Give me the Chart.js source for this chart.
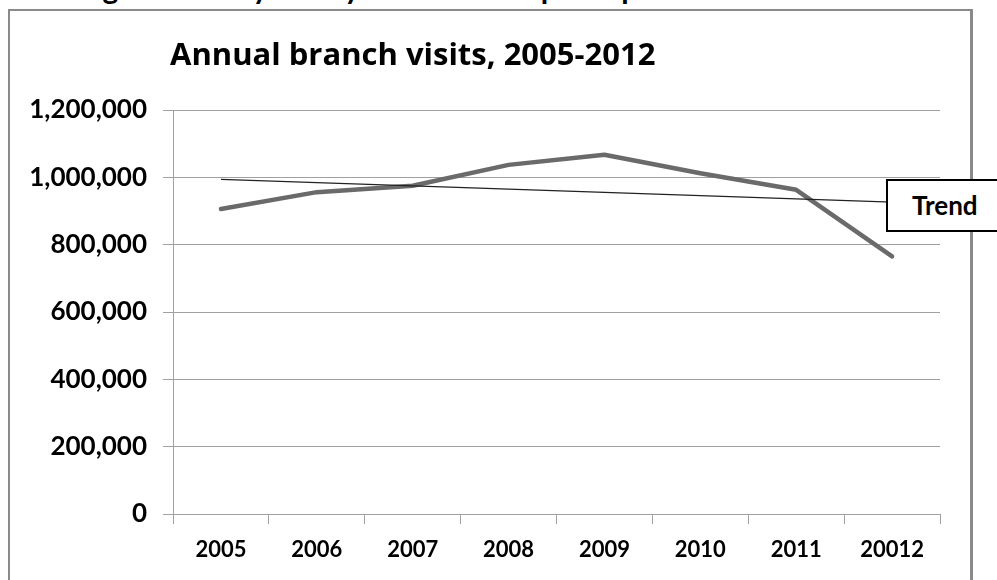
<!DOCTYPE html>
<html>
<head>
<meta charset="utf-8">
<script src="https://cdn.jsdelivr.net/npm/chart.js@4.4.1/dist/chart.umd.min.js"></script>
<style>
  html, body { margin: 0; padding: 0; background: #fff; overflow: hidden; }
  #wrap { position: relative; width: 997px; height: 580px; overflow: hidden; }
  #chart { position: absolute; left: 0; top: 0; }
  #heading {
    position: absolute; left: 3px; top: -27px;
    font: bold 30px Lato, "Open Sans", sans-serif; line-height: 29px;
    white-space: nowrap; color: #000;
  }
  #frame {
    position: absolute; left: 8px; top: 9px; width: 960px; height: 620px;
    border: 2px solid #8a8a8a; border-right-width: 3px; background: #fff;
  }
  #title {
    position: absolute; left: 170px; top: 34px;
    font: bold 31px "Open Sans", Lato, sans-serif; line-height: 38px;
    white-space: nowrap; color: #000;
  }
  #trendBox {
    position: absolute; left: 886px; top: 179px; width: 110px; height: 49px;
    border: 2px solid #000; border-right: none; background: #fff;
    font: bold 26px Lato, "Open Sans", sans-serif; line-height: 49px;
    padding-left: 24px; box-sizing: content-box; color: #000;
  }
</style>
</head>
<body>
<div id="wrap">
  <div id="heading">Washington County library branch visits per capita</div>
  <div id="frame"></div>
  <canvas id="chart" width="997" height="580"></canvas>
  <div id="title">Annual branch visits, 2005-2012</div>
  <div id="trendBox">Trend</div>
</div>
<script>
// ---------- DATA ----------
const years = ["2005", "2006", "2007", "2008", "2009", "2010", "2011", "20012"];
const visits = [906000, 956000, 975000, 1037000, 1067000, 1012000, 963000, 765000];
const yTicks = [0, 200000, 400000, 600000, 800000, 1000000, 1200000];

// ---------- HELPERS ----------
// least squares line over the category index, like a spreadsheet trendline
function linearTrend(values) {
  const n = values.length;
  const mx = (n - 1) / 2;
  const my = values.reduce((s, v) => s + v, 0) / n;
  let sxy = 0, sxx = 0;
  values.forEach((v, i) => {
    sxy += (i - mx) * (v - my);
    sxx += (i - mx) * (i - mx);
  });
  const slope = sxy / sxx;
  return values.map((_, i) => my + slope * (i - mx));
}

const trend = linearTrend(visits);

new Chart(document.getElementById("chart"), {
  type: "line",
  data: {
    labels: years,
    datasets: [
      {
        label: "Trend",
        data: trend,
        borderColor: "#222",
        borderWidth: 1.2,
        pointRadius: 0,
        tension: 0,
      },
      {
        label: "Visits",
        data: visits,
        borderColor: "#6a6a6a",
        borderWidth: 4.5,
        borderCapStyle: "round",
        borderJoinStyle: "round",
        pointRadius: 0,
        tension: 0,
      },
    ],
  },
  options: {
    responsive: false,
    animation: false,
    layout: { padding: { top: 110, right: 57, left: 0, bottom: 0 } },
    plugins: { legend: { display: false }, tooltip: { enabled: false } },
    scales: {
      x: {
        offset: true,
        grid: {
          offset: true,
          drawOnChartArea: false,
          drawTicks: true,
          tickLength: 10,
          color: "#a0a0a0",
        },
        border: { color: "#a0a0a0", width: 1 },
        ticks: {
          color: "#000",
          padding: 13,
          font: { family: "Lato, 'Open Sans', sans-serif", size: 22, weight: "bold" },
        },
        afterFit: (s) => { s.height = 66; },
      },
      y: {
        min: 0,
        max: 1200000,
        afterBuildTicks: (s) => { s.ticks = yTicks.map((v) => ({ value: v })); },
        grid: { color: "#a0a0a0", tickLength: 10, lineWidth: 1 },
        border: { color: "#a0a0a0", width: 1 },
        ticks: {
          color: "#000",
          padding: 16,
          font: { family: "Lato, 'Open Sans', sans-serif", size: 26, weight: "bold" },
          callback: (v) => v.toLocaleString("en-US"),
        },
        afterFit: (s) => { s.width = 173; },
      },
    },
  },
});
</script>
</body>
</html>
